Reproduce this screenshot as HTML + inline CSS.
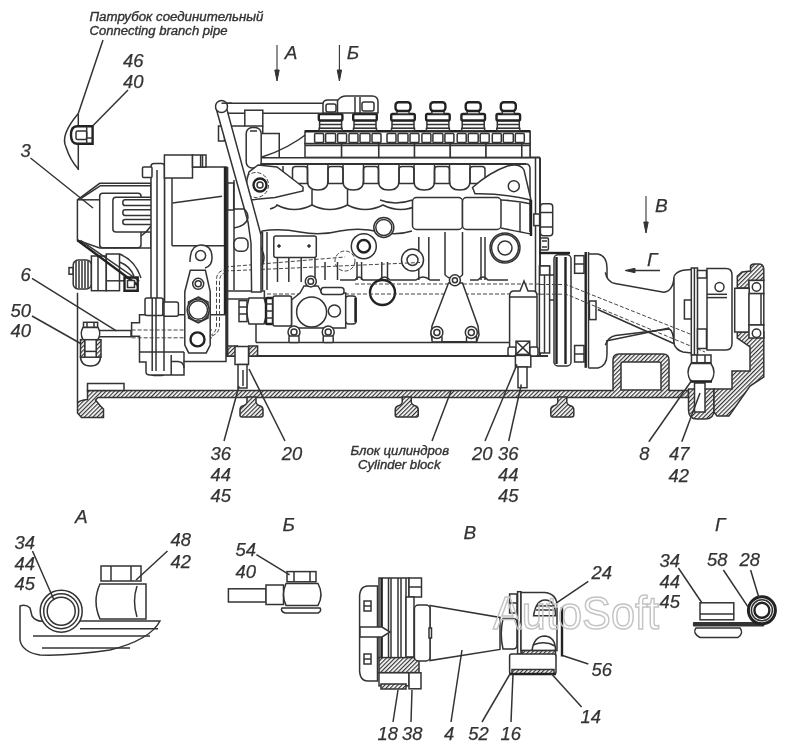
<!DOCTYPE html>
<html><head><meta charset="utf-8"><style>
html,body{margin:0;padding:0;background:#fff;}
svg{display:block;filter:grayscale(1);}
.ln{fill:none;stroke:#333;stroke-width:1.5;}
.ln2{fill:none;stroke:#333;stroke-width:2;}
.f{fill:#fff;stroke:#333;stroke-width:1.5;}
.fn{fill:#fff;stroke:none;}
.thn{fill:none;stroke:#333;stroke-width:1.1;}
.bk{fill:#333;stroke:#333;stroke-width:1;}
.dsh{fill:none;stroke:#444;stroke-width:1;stroke-dasharray:4 2;}
.thk{fill:none;stroke:#222;stroke-width:2.4;}
.fk{fill:#fff;stroke:#222;stroke-width:2.4;}
.thkc{fill:#fff;stroke:#222;stroke-width:3;}
.hat{fill:url(#hp);stroke:#333;stroke-width:1.5;}
.n{font-family:"Liberation Sans",sans-serif;font-style:italic;fill:#333;stroke:#333;stroke-width:0.25;}
.s{font-family:"Liberation Sans",sans-serif;font-style:italic;fill:#333;stroke:#333;stroke-width:0.35;}
.wm{font-family:"Liberation Sans",sans-serif;fill:none;stroke:#c4c4c4;stroke-width:1.5;}
</style></head><body>
<svg width="800" height="756" viewBox="0 0 800 756">
<defs><pattern id="hp" width="3" height="3" patternUnits="userSpaceOnUse" patternTransform="rotate(45)"><rect width="3" height="3" fill="#fff"/><line x1="0.6" y1="0" x2="0.6" y2="3" stroke="#333" stroke-width="1.2"/></pattern></defs>
<path d="M87.5,390.5 L613,390.5 L613,360 Q613,354 619,354 L663,354 Q669,354 669,360 L669,390.5 L688.5,390.5 L688.5,397.5 L98,397.5 L95.5,400 Q100,406 103.5,409 L103.5,417.5 L81.5,417.5 L77.5,413 L77.5,403 Q80,400 87.5,399.5 Z" class="hat"/>
<path d="M621,390 L621,364 Q621,362 623,362 L659,362 Q661,362 661,364 L661,390 Z" class="f"/>
<path d="M247.0,397 L247.0,402 Q246.5,405 242.5,406 Q240.0,407 240.0,410 L240.0,415 Q240.0,417 242.0,417 L261.0,417 Q263.0,417 263.0,415 L263.0,410 Q263.0,407 260.5,406 Q256.5,405 256.0,402 L256.0,397 Z" class="hat"/>
<path d="M402.25,397 L402.25,402 Q401.75,405 397.75,406 Q395.25,407 395.25,410 L395.25,415 Q395.25,417 397.25,417 L416.25,417 Q418.25,417 418.25,415 L418.25,410 Q418.25,407 415.75,406 Q411.75,405 411.25,402 L411.25,397 Z" class="hat"/>
<path d="M557.8,397 L557.8,402 Q557.3,405 553.3,406 Q550.8,407 550.8,410 L550.8,415 Q550.8,417 552.8,417 L571.8,417 Q573.8,417 573.8,415 L573.8,410 Q573.8,407 571.3,406 Q567.3,405 566.8,402 L566.8,397 Z" class="hat"/>
<path d="M688.5,389 L688.5,410 Q688.5,419 697,419 L705,419 Q714,419 714,410 L714,389 Z" class="hat"/>
<rect x="694.5" y="383.0" width="10.5" height="29.0" rx="0" class="f"/>
<path d="M714,389 L732,389 L732,371 L750,371 L750,347 L737.3,338 L737.3,332 L763.8,332 L763.8,377 L750,386 L729,416 L717,416 L714,412 Z" class="hat"/>
<path d="M737.3,288 L737.3,276 L742,272 L750.5,271 L750.5,266 Q751,263.9 754,263.9 L759,263.9 Q763.8,264 763.8,270 L763.8,280.4 L749,280.4 L749,288 Z" class="hat"/>
<rect x="749.0" y="280.4" width="14.8" height="13.2" rx="0" class="f"/>
<circle cx="756.5" cy="287.0" r="4.2" class="f"/>
<rect x="734.7" y="288.3" width="14.5" height="43.7" rx="0" class="f"/>
<rect x="749.0" y="293.6" width="14.8" height="31.4" rx="0" class="f"/>
<path d="M761.0,293.6 L761.0,325.0" class="ln"/>
<rect x="749.0" y="325.0" width="14.8" height="13.0" rx="0" class="f"/>
<circle cx="756.5" cy="333.3" r="4.2" class="f"/>
<rect x="87.5" y="383.5" width="36.5" height="7.0" rx="0" class="f"/>
<path d="M77.5,292.8 L77.5,403.0" class="ln"/>
<path d="M262,157.5 L540,157.5 L540,356 L225,356 L225,167 L247,167 L247,157.5 Z" class="fn"/>
<path d="M247.0,157.5 L540.0,157.5" class="ln2"/>
<path d="M255.0,164.0 L526.0,164.0" class="ln2"/>
<path d="M526,164 Q530,164 530,169 L530,232" class="ln"/>
<path d="M535.5,157.5 L535.5,356.0" class="ln"/>
<path d="M540.0,157.5 L540.0,356.0" class="ln2"/>
<path d="M262,157 Q288,149 310,131.5 L530,131.5 L530,157" class="f"/>
<rect x="305.0" y="143.6" width="36.6" height="13.8" rx="0" class="f"/>
<rect x="341.6" y="143.6" width="37.1" height="13.8" rx="0" class="f"/>
<rect x="378.8" y="143.6" width="35.8" height="13.8" rx="0" class="f"/>
<rect x="414.5" y="143.6" width="35.8" height="13.8" rx="0" class="f"/>
<rect x="450.3" y="143.6" width="35.7" height="13.8" rx="0" class="f"/>
<rect x="486.0" y="143.6" width="35.8" height="13.8" rx="0" class="f"/>
<rect x="521.8" y="143.6" width="8.2" height="13.8" rx="0" class="f"/>
<path d="M305.0,145.5 L530.0,145.5" class="ln"/>
<rect x="305.0" y="131.2" width="225.0" height="12.3" rx="0" class="f"/>
<path d="M305.0,131.2 L530.0,131.2" class="thk"/>
<rect x="314.6" y="133.5" width="9.0" height="9.0" rx="1" class="f"/>
<rect x="325.6" y="133.5" width="10.0" height="9.0" rx="1" class="f"/>
<rect x="337.6" y="133.5" width="9.0" height="9.0" rx="1" class="f"/>
<rect x="319.6" y="120.5" width="22.0" height="8.0" rx="1" class="f"/>
<path d="M319.6,124.5 L341.6,124.5" class="ln"/>
<rect x="319.1" y="128.3" width="23.0" height="2.5" rx="0" class="f"/>
<rect x="318.8" y="114.0" width="23.6" height="6.5" rx="1.5" class="fk"/>
<rect x="349.0" y="133.5" width="9.0" height="9.0" rx="1" class="f"/>
<rect x="360.0" y="133.5" width="10.0" height="9.0" rx="1" class="f"/>
<rect x="372.0" y="133.5" width="9.0" height="9.0" rx="1" class="f"/>
<rect x="354.0" y="120.5" width="22.0" height="8.0" rx="1" class="f"/>
<path d="M354.0,124.5 L376.0,124.5" class="ln"/>
<rect x="353.5" y="128.3" width="23.0" height="2.5" rx="0" class="f"/>
<rect x="353.2" y="114.0" width="23.6" height="6.5" rx="1.5" class="fk"/>
<rect x="387.0" y="133.5" width="9.0" height="9.0" rx="1" class="f"/>
<rect x="398.0" y="133.5" width="10.0" height="9.0" rx="1" class="f"/>
<rect x="410.0" y="133.5" width="9.0" height="9.0" rx="1" class="f"/>
<rect x="392.0" y="120.5" width="22.0" height="8.0" rx="1" class="f"/>
<path d="M392.0,124.5 L414.0,124.5" class="ln"/>
<rect x="391.5" y="128.3" width="23.0" height="2.5" rx="0" class="f"/>
<rect x="391.2" y="114.0" width="23.6" height="6.5" rx="1.5" class="fk"/>
<rect x="397.0" y="110.5" width="12.0" height="3.5" rx="0" class="f"/>
<rect x="395.5" y="102.3" width="15.0" height="8.7" rx="3" class="fk"/>
<rect x="421.9" y="133.5" width="9.0" height="9.0" rx="1" class="f"/>
<rect x="432.9" y="133.5" width="10.0" height="9.0" rx="1" class="f"/>
<rect x="444.9" y="133.5" width="9.0" height="9.0" rx="1" class="f"/>
<rect x="426.9" y="120.5" width="22.0" height="8.0" rx="1" class="f"/>
<path d="M426.9,124.5 L448.9,124.5" class="ln"/>
<rect x="426.4" y="128.3" width="23.0" height="2.5" rx="0" class="f"/>
<rect x="426.1" y="114.0" width="23.6" height="6.5" rx="1.5" class="fk"/>
<rect x="431.9" y="110.5" width="12.0" height="3.5" rx="0" class="f"/>
<rect x="430.4" y="102.3" width="15.0" height="8.7" rx="3" class="fk"/>
<rect x="457.2" y="133.5" width="9.0" height="9.0" rx="1" class="f"/>
<rect x="468.2" y="133.5" width="10.0" height="9.0" rx="1" class="f"/>
<rect x="480.2" y="133.5" width="9.0" height="9.0" rx="1" class="f"/>
<rect x="462.2" y="120.5" width="22.0" height="8.0" rx="1" class="f"/>
<path d="M462.2,124.5 L484.2,124.5" class="ln"/>
<rect x="461.7" y="128.3" width="23.0" height="2.5" rx="0" class="f"/>
<rect x="461.4" y="114.0" width="23.6" height="6.5" rx="1.5" class="fk"/>
<rect x="467.2" y="110.5" width="12.0" height="3.5" rx="0" class="f"/>
<rect x="465.7" y="102.3" width="15.0" height="8.7" rx="3" class="fk"/>
<rect x="492.3" y="133.5" width="9.0" height="9.0" rx="1" class="f"/>
<rect x="503.3" y="133.5" width="10.0" height="9.0" rx="1" class="f"/>
<rect x="515.3" y="133.5" width="9.0" height="9.0" rx="1" class="f"/>
<rect x="497.3" y="120.5" width="22.0" height="8.0" rx="1" class="f"/>
<path d="M497.3,124.5 L519.3,124.5" class="ln"/>
<rect x="496.8" y="128.3" width="23.0" height="2.5" rx="0" class="f"/>
<rect x="496.5" y="114.0" width="23.6" height="6.5" rx="1.5" class="fk"/>
<rect x="502.3" y="110.5" width="12.0" height="3.5" rx="0" class="f"/>
<rect x="500.8" y="102.3" width="15.0" height="8.7" rx="3" class="fk"/>
<path d="M221,103.2 L326,103.2 L326,113.3 L228,113.3 Z" class="f"/>
<rect x="244.8" y="110.2" width="18.0" height="15.8" rx="0" class="f"/>
<path d="M231.0,126.0 L244.8,126.0" class="ln"/>
<path d="M262.75,126 L262.75,133.5 L279.25,133.5 L279.25,157" class="ln"/>
<rect x="246.2" y="127.5" width="15.0" height="40.5" rx="6" class="f"/>
<path d="M250.0,131.0 L257.0,131.0" class="ln"/>
<rect x="218.5" y="126.0" width="6.0" height="15.0" rx="0" class="f"/>
<path d="M323,113 L323,104 Q323,100 328,100 L338,100 Q341,96 346,96 L372,96 Q378,96 378,102 L378,113 Z" class="f"/>
<path d="M337.5,100.0 L337.5,113.0" class="ln"/>
<path d="M355.0,97.0 L355.0,113.0" class="ln"/>
<path d="M360.0,97.0 L360.0,113.0" class="ln"/>
<rect x="326.0" y="104.0" width="10.0" height="8.0" rx="2" class="f"/>
<rect x="362.0" y="102.0" width="12.0" height="9.0" rx="2" class="f"/>
<path d="M292.5,183.4 L292.5,169.5 Q292.5,166.5 295.5,166.5 L304.5,166.5 Q307.5,166.5 307.5,169.5 L307.5,183.4 Z" class="ln"/>
<path d="M307.5,165 L307.5,181 Q307.5,190 317.8,190 Q328.0,190 328.0,181 L328.0,165" class="ln"/>
<path d="M328.0,183.4 L328.0,169.5 Q328.0,166.5 331.0,166.5 L340.0,166.5 Q343.0,166.5 343.0,169.5 L343.0,183.4 Z" class="ln"/>
<path d="M343.0,165 L343.0,181 Q343.0,190 353.2,190 Q363.5,190 363.5,181 L363.5,165" class="ln"/>
<path d="M363.5,183.4 L363.5,169.5 Q363.5,166.5 366.5,166.5 L375.5,166.5 Q378.5,166.5 378.5,169.5 L378.5,183.4 Z" class="ln"/>
<path d="M378.5,165 L378.5,181 Q378.5,190 388.8,190 Q399.0,190 399.0,181 L399.0,165" class="ln"/>
<path d="M399.0,183.4 L399.0,169.5 Q399.0,166.5 402.0,166.5 L411.0,166.5 Q414.0,166.5 414.0,169.5 L414.0,183.4 Z" class="ln"/>
<path d="M414.0,165 L414.0,181 Q414.0,190 424.2,190 Q434.5,190 434.5,181 L434.5,165" class="ln"/>
<path d="M434.5,183.4 L434.5,169.5 Q434.5,166.5 437.5,166.5 L446.5,166.5 Q449.5,166.5 449.5,169.5 L449.5,183.4 Z" class="ln"/>
<path d="M449.5,165 L449.5,181 Q449.5,190 459.8,190 Q470.0,190 470.0,181 L470.0,165" class="ln"/>
<path d="M470.0,183.4 L470.0,169.5 Q470.0,166.5 473.0,166.5 L482.0,166.5 Q485.0,166.5 485.0,169.5 L485.0,183.4 Z" class="ln"/>
<path d="M283,166 L283,181 Q283,190 292.5,183.4" class="ln"/>
<path d="M270,209 Q276.5,207 277.0,205 Q294.2,214 312.0,205 Q329.8,214 347.5,205 Q365.2,214 383.0,205 Q400.8,214 418.5,205" class="ln"/>
<path d="M312.0,190.0 L312.0,205.0" class="ln"/>
<path d="M347.5,190.0 L347.5,205.0" class="ln"/>
<path d="M250,200 Q243,190 249,172 L258,165 L277,167 L303,187 L303,191 L275,197.5 Z" class="f"/>
<circle cx="256.0" cy="185.0" r="12.5" class="dsh"/>
<circle cx="260.0" cy="185.0" r="6.5" class="fk"/>
<circle cx="260.0" cy="185.0" r="3" class="ln"/>
<path d="M472.5,187.5 Q490,172 507.5,166 Q520,163 524,170 L531,200 Q500,193 475,193.75 Z" class="f"/>
<circle cx="513.8" cy="186.2" r="5.5" class="f"/>
<rect x="412.5" y="197.5" width="50.0" height="32.0" rx="4" class="f"/>
<rect x="462.5" y="197.5" width="38.5" height="32.0" rx="4" class="f"/>
<path d="M501,200 Q520,201 531,204 L531,234 Q520,232 501,228" class="ln"/>
<path d="M520.0,203.0 L520.0,232.0" class="ln"/>
<path d="M531.0,200.0 L531.0,236.0" class="thk"/>
<path d="M380,200 Q395,206 412.5,200" class="ln"/>
<rect x="540.4" y="203.8" width="12.3" height="32.0" rx="3" class="f"/>
<path d="M540.4,212.5 L552.7,212.5" class="ln"/>
<path d="M540.4,227.0 L552.7,227.0" class="ln"/>
<rect x="533.8" y="214.0" width="5.8" height="11.6" rx="0" class="f"/>
<rect x="540.4" y="238.0" width="8.0" height="12.0" rx="1" class="f"/>
<path d="M542.0,241.0 L547.0,241.0" class="ln"/>
<path d="M542.0,247.0 L547.0,247.0" class="ln"/>
<path d="M262,231 Q280,228 300,232 Q320,236 340,231 Q360,227 380,232 Q396,236 412,231" class="ln"/>
<path d="M262,231 Q256,240 262,250 Q266,258 262,266" class="ln"/>
<rect x="273.8" y="236.0" width="42.5" height="21.5" rx="2" class="f"/>
<circle cx="279.0" cy="246.0" r="1.3" class="bk"/>
<circle cx="309.0" cy="246.0" r="1.3" class="bk"/>
<path d="M277.5,257.5 L277.5,282.0" class="ln"/>
<path d="M315.0,257.5 L315.0,282.0" class="ln"/>
<path d="M288.8,257.5 L288.8,282.0" class="ln"/>
<path d="M301.2,257.5 L301.2,282.0" class="ln"/>
<path d="M325.0,262.0 L325.0,280.0" class="ln"/>
<path d="M337.5,262.0 L337.5,280.0" class="ln"/>
<path d="M357.0,262.0 L357.0,280.0" class="ln"/>
<path d="M361.6,262.0 L361.6,280.0" class="ln"/>
<path d="M381.8,262.0 L381.8,280.0" class="ln"/>
<path d="M387.5,262.0 L387.5,280.0" class="ln"/>
<path d="M418.8,237.0 L418.8,280.0" class="ln"/>
<path d="M428.8,237.0 L428.8,280.0" class="ln"/>
<path d="M481.0,237.0 L481.0,280.0" class="ln"/>
<path d="M485.0,237.0 L485.0,280.0" class="ln"/>
<path d="M340,280 L355,280 Q359,274 363,280 L379,280 Q384.5,274 390,280 L416,280 Q423,274 430,280 L440,280 M470,280 L478,280 Q483,274 488,280 L508,280" class="ln"/>
<path d="M445.0,232.0 L445.0,275.0" class="ln"/>
<path d="M462.5,232.0 L462.5,275.0" class="ln"/>
<path d="M445,275 Q453.75,283 462.5,275" class="ln"/>
<circle cx="383.8" cy="227.5" r="10" class="f"/>
<circle cx="383.8" cy="227.5" r="8" class="ln"/>
<circle cx="363.8" cy="246.2" r="12.5" class="f"/>
<circle cx="363.8" cy="246.2" r="6.25" class="thk"/>
<circle cx="412.5" cy="260.0" r="11" class="f"/>
<circle cx="412.5" cy="260.0" r="5.5" class="f"/>
<circle cx="505.0" cy="248.0" r="15" class="f"/>
<circle cx="505.0" cy="248.0" r="13.5" class="ln"/>
<circle cx="505.0" cy="248.0" r="7" class="f"/>
<circle cx="382.5" cy="292.5" r="12.5" class="thk"/>
<path d="M225.0,267.0 L345.0,257.0" class="dsh"/>
<path d="M225.0,271.0 L420.0,262.5" class="dsh"/>
<circle cx="345.0" cy="261.0" r="10" class="dsh"/>
<path d="M355.0,284.0 L540.0,284.0" class="dsh"/>
<path d="M225.0,294.0 L540.0,294.0" class="dsh"/>
<path d="M448.5,283 L432,326 L431,335 L433,341.7 L476.6,341.7 L479,335 L478,326 L462.5,283 Z" class="f"/>
<rect x="432.0" y="336.0" width="10.0" height="6.0" rx="1" class="f"/>
<rect x="466.5" y="336.0" width="10.0" height="6.0" rx="1" class="f"/>
<circle cx="454.9" cy="280.3" r="5.5" class="f"/>
<circle cx="454.9" cy="280.3" r="2.5" class="f"/>
<circle cx="436.9" cy="332.4" r="6" class="f"/>
<circle cx="436.9" cy="332.4" r="3" class="f"/>
<circle cx="471.3" cy="332.4" r="6" class="f"/>
<circle cx="471.3" cy="332.4" r="3" class="f"/>
<path d="M256.0,342.5 L509.6,342.5" class="ln"/>
<path d="M256.0,310.0 L256.0,342.5" class="ln"/>
<path d="M225.0,356.0 L548.0,356.0" class="ln2"/>
<path d="M291.5,328 L291.5,300 L300,293 L304,286 L318,286 L322,293 L345.7,293 L345.7,328 Z" class="f"/>
<rect x="321.0" y="287.5" width="23.0" height="7.0" rx="3" class="f"/>
<rect x="345.7" y="296.0" width="10.3" height="28.0" rx="3" class="f"/>
<path d="M355.5,298.0 L355.5,322.0" class="thk"/>
<circle cx="334.4" cy="311.0" r="6.1" class="f"/>
<circle cx="311.6" cy="312.0" r="15" class="f"/>
<circle cx="310.8" cy="281.4" r="5.5" class="f"/>
<circle cx="310.8" cy="281.4" r="2.8" class="f"/>
<circle cx="294.0" cy="332.0" r="6" class="f"/>
<circle cx="294.0" cy="332.0" r="3" class="f"/>
<circle cx="328.2" cy="332.0" r="6" class="f"/>
<circle cx="328.2" cy="332.0" r="3" class="f"/>
<rect x="289.0" y="336.0" width="10.0" height="6.6" rx="1" class="f"/>
<rect x="323.2" y="336.0" width="10.0" height="6.6" rx="1" class="f"/>
<path d="M225,291 L264.4,291 L264.4,299 L225,299" class="f"/>
<rect x="239.0" y="300.6" width="8.0" height="21.0" rx="0" class="f"/>
<path d="M239.0,307.0 L247.0,307.0" class="ln"/>
<path d="M239.0,314.0 L247.0,314.0" class="ln"/>
<path d="M249,298 L264,298 Q269,311 264,324 L249,324 Q245,311 249,298 Z" class="f"/>
<rect x="266.0" y="298.0" width="7.0" height="26.0" rx="1" class="fk"/>
<path d="M266.0,304.0 L273.0,304.0" class="ln"/>
<path d="M266.0,311.0 L273.0,311.0" class="ln"/>
<path d="M266.0,318.0 L273.0,318.0" class="ln"/>
<rect x="273.0" y="296.0" width="18.5" height="30.0" rx="2" class="f"/>
<path d="M509.6,355 L509.6,296 Q509.6,291 514,291 L520,291 L524,281 L528,291 L533,291 Q537,291 537,296 L537,355" class="f"/>
<path d="M509.6,297.0 L537.0,297.0" class="ln"/>
<rect x="508.0" y="347.0" width="8.0" height="9.0" rx="2" class="f"/>
<rect x="529.7" y="347.0" width="8.3" height="9.0" rx="2" class="f"/>
<rect x="516.0" y="341.2" width="13.7" height="13.2" rx="0" class="f"/>
<path d="M516.0,341.2 L529.7,354.4" class="ln"/>
<path d="M529.7,341.2 L516.0,354.4" class="ln"/>
<rect x="515.4" y="355.4" width="15.4" height="11.6" rx="0" class="f"/>
<rect x="518.0" y="367.0" width="9.0" height="20.7" rx="0" class="f"/>
<rect x="227.5" y="346.0" width="10.0" height="10.0" rx="0" class="hat"/>
<rect x="248.8" y="346.0" width="8.8" height="10.0" rx="0" class="hat"/>
<rect x="235.0" y="346.5" width="13.5" height="18.0" rx="0" class="f"/>
<rect x="238.0" y="364.5" width="9.0" height="23.5" rx="0" class="f"/>
<path d="M243.0,370.0 L243.0,386.0" class="ln"/>
<path d="M216,108 L248,222 L251,243 L251.6,292 L261,292 L261,235 L258,224 L226,106 Z" class="f"/>
<circle cx="221.5" cy="106.5" r="6" class="f"/>
<path d="M221.5,103.2 L232.0,103.2" class="ln"/>
<path d="M77.4,199.8 L99.7,183.3 L151,183.3 L151,248 L99.7,248 L77.4,240.3 Z" class="f"/>
<path d="M81.5,198 L100.5,185.7 L151,185.7" class="ln"/>
<path d="M77.4,199.8 L99.7,199.8" class="ln"/>
<rect x="99.7" y="193.2" width="41.3" height="54.5" rx="3" class="f"/>
<path d="M151,197.3 L116,197.3 Q112.9,197.3 112.9,200.5 L112.9,229 Q112.9,232 116,232 L151,232" class="f"/>
<path d="M151,199.8 L125,199.8 Q122.8,199.8 122.8,202.7 Q122.8,205.6 125,205.6 L151,205.6" class="ln"/>
<path d="M151,209.7 L125,209.7 Q122.8,209.7 122.8,212.6 Q122.8,215.5 125,215.5 L151,215.5" class="ln"/>
<path d="M151,219.6 L125,219.6 Q122.8,219.6 122.8,222.1 Q122.8,224.6 125,224.6 L151,224.6" class="ln"/>
<path d="M141,236 Q147,232 151,226" class="ln"/>
<rect x="151.0" y="163.6" width="13.6" height="212.0" rx="3" class="f"/>
<path d="M157.0,170.0 L157.0,370.0" class="ln"/>
<path d="M164.6,167 L226.5,167 L226.5,355.75 L164.6,355.75 Z" class="f"/>
<rect x="164.4" y="155.0" width="28.1" height="23.0" rx="0" class="f"/>
<rect x="192.5" y="155.0" width="13.5" height="12.0" rx="0" class="f"/>
<path d="M200.6,155.0 L200.6,167.0" class="ln"/>
<path d="M202.5,155.0 L202.5,167.0" class="ln"/>
<rect x="142.5" y="167.0" width="9.5" height="10.5" rx="1" class="f"/>
<path d="M172.0,178.0 L172.0,245.8" class="ln"/>
<rect x="227.5" y="183.0" width="6.2" height="27.0" rx="0" class="f"/>
<path d="M172.5,203.0 L222.0,196.2" class="ln"/>
<path d="M172.0,245.8 L226.5,245.8" class="ln"/>
<path d="M225.0,167.0 L225.0,355.8" class="thk"/>
<path d="M227.6,167.0 L227.6,355.8" class="ln"/>
<path d="M234.0,180.0 L234.0,290.0" class="ln"/>
<rect x="234.0" y="238.0" width="14.0" height="13.3" rx="5" class="f"/>
<path d="M234,209 L244,209 Q248,212 248,218 Q246,226 234,228" class="ln"/>
<path d="M262.5,232.0 L262.5,290.0" class="ln"/>
<path d="M267.0,232.0 L267.0,290.0" class="ln"/>
<path d="M190,262 Q190,245 201,245 Q212,245 212,258 Q212,266 205,268" class="f"/>
<circle cx="200.6" cy="255.6" r="5" class="f"/>
<path d="M139.5,314.8 L139.5,322.7 L131.6,322.7 L131.6,336.2 L139.5,336.2 L139.5,352 L139.5,362 L146,362 L146,372 Q146,375 150,375 L184,375 L184,361.5 L226,361.5 L226,314.8 Z" class="f"/>
<path d="M139.5,352.0 L184.0,352.0" class="ln"/>
<path d="M184.0,352.0 L184.0,362.0" class="ln"/>
<rect x="145.0" y="298.0" width="18.0" height="17.5" rx="2" class="f"/>
<rect x="163.0" y="302.0" width="15.4" height="14.3" rx="2" class="f"/>
<path d="M152.2,298.0 L152.2,371.0" class="ln"/>
<path d="M156.0,298.0 L156.0,371.0" class="ln"/>
<path d="M164.0,298.0 L164.0,371.0" class="ln"/>
<path d="M171.2,355.0 L171.2,375.0" class="ln"/>
<path d="M171.25,361.5 L178,361.5 Q184,362 184,368" class="ln"/>
<path d="M131.6,330.0 L212.0,330.0" class="dsh"/>
<path d="M131.6,337.8 L212.0,337.8" class="dsh"/>
<path d="M190.3,270.3 L205.4,270.3 L210.2,291.7 L210.2,345 L206.2,352.9 L188.7,352.9 L184.8,345 L184.8,291.7 Z" class="f"/>
<path d="M198.25,297 L208,302 L208,318 L198.25,323 L188.5,318 L188.5,302 Z" class="ln"/>
<circle cx="198.2" cy="283.8" r="5.5" class="f"/>
<circle cx="198.2" cy="283.8" r="3" class="f"/>
<circle cx="198.2" cy="310.0" r="11" class="f"/>
<circle cx="198.2" cy="310.0" r="9.3" class="ln"/>
<circle cx="197.5" cy="339.4" r="7" class="fk"/>
<path d="M209.4,336 Q216.5,333 216.5,325 L216.5,280 Q216.5,271 225,270" class="dsh"/>
<path d="M212,336 Q219.5,333 219.5,325 L219.5,282 Q219.5,274 225,273" class="dsh"/>
<rect x="69.0" y="267.6" width="4.2" height="6.6" rx="0" class="f"/>
<rect x="73.2" y="260.0" width="18.2" height="29.0" rx="5" class="f"/>
<path d="M76.0,261.0 L76.0,288.0" class="ln"/>
<path d="M79.0,261.0 L79.0,288.0" class="ln"/>
<path d="M82.0,261.0 L82.0,288.0" class="ln"/>
<path d="M85.0,261.0 L85.0,288.0" class="ln"/>
<path d="M88.0,261.0 L88.0,288.0" class="ln"/>
<rect x="91.4" y="256.0" width="14.9" height="34.7" rx="0" class="f"/>
<rect x="106.3" y="254.0" width="13.2" height="36.7" rx="0" class="f"/>
<path d="M106.3,280.8 L124.5,280.8" class="ln"/>
<path d="M98.0,256.0 L98.0,290.7" class="ln"/>
<path d="M77.4,240.3 L137.7,285" class="thk"/>
<path d="M80.5,240.3 L139.3,281" class="ln"/>
<path d="M124.5,277.5 L137.7,277.5 L137.7,290.7 L124.5,290.7 Z" class="thk"/>
<rect x="127.5" y="280.5" width="7.0" height="7.0" rx="0" class="f"/>
<path d="M119.5,254 Q135,260 141,278" class="ln"/>
<path d="M119.5,262 Q130,266 134,276" class="ln"/>
<path d="M99,330.6 L131,330.6 L131,336.8 L99,336.8 Z" class="f"/>
<rect x="83.5" y="322.3" width="14.1" height="5.1" rx="0" class="f"/>
<path d="M87.0,322.3 L87.0,327.4" class="ln"/>
<path d="M94.0,322.3 L94.0,327.4" class="ln"/>
<path d="M83,327.4 L98,327.4 Q101.5,333.5 98,339.7 L83,339.7 Q79.5,333.5 83,327.4 Z" class="f"/>
<rect x="80.5" y="339.7" width="4.4" height="17.5" rx="0" class="hat"/>
<rect x="96.2" y="339.7" width="4.8" height="17.5" rx="0" class="hat"/>
<rect x="84.9" y="339.7" width="11.3" height="17.5" rx="0" class="f"/>
<path d="M84.9,351.4 L96.2,351.4" class="ln"/>
<path d="M80.5,356 Q80.5,366 90.5,366 Q100.5,366 100.5,356" class="ln"/>
<path d="M539.4,253.0 L570.0,253.0" class="thk"/>
<rect x="539.4" y="266.0" width="10.2" height="87.0" rx="0" class="f"/>
<rect x="540.0" y="266.0" width="9.6" height="9.0" rx="0" class="f"/>
<path d="M544.5,275.0 L544.5,353.0" class="ln"/>
<path d="M549.6,275.0 L554.0,275.0" class="ln"/>
<path d="M549.6,300.0 L554.0,300.0" class="ln"/>
<rect x="554.0" y="254.8" width="17.0" height="111.2" rx="4" class="f"/>
<path d="M556.5,257.0 L556.5,364.0" class="thk"/>
<path d="M565.5,257.0 L565.5,364.0" class="thk"/>
<rect x="574.6" y="255.7" width="9.4" height="17.6" rx="0" class="f"/>
<rect x="574.6" y="345.5" width="9.4" height="16.5" rx="0" class="f"/>
<path d="M574.6,264.0 L584.0,264.0" class="ln"/>
<path d="M574.6,354.0 L584.0,354.0" class="ln"/>
<path d="M588.5,254 L598,254 Q607,256 607,268 L607,354 Q607,366 598,368 L588.5,368" class="f"/>
<path d="M585.7,252.0 L585.7,367.8" class="thk"/>
<path d="M588.5,252.0 L588.5,367.8" class="ln"/>
<rect x="589.4" y="301.0" width="6.6" height="18.6" rx="0" class="f"/>
<path d="M605.3,272.4 Q607,282 615,283.5 L663.8,292.3 Q673.4,291 674,276.5 L674,344 Q673.5,331 669.3,329 L615.6,335.6 Q608,337 605.3,345.3" class="f"/>
<path d="M540.0,284.5 L566.0,284.5 L700.0,338.0" class="dsh"/>
<path d="M540.0,294.2 L566.0,294.2 L705.0,352.0" class="dsh"/>
<path d="M597.8,309.5 L674.8,344.0" class="ln"/>
<path d="M606.0,341.0 L669.3,328.0" class="ln"/>
<path d="M674,276.5 Q676,272 683,270.3 L691.3,269.5" class="ln"/>
<path d="M674,344 Q676,350 683,352 L691.3,353" class="ln"/>
<rect x="691.3" y="268.0" width="6.2" height="87.0" rx="0" class="f"/>
<path d="M694.4,268.0 L694.4,355.0" class="ln"/>
<rect x="684.4" y="300.0" width="6.9" height="19.0" rx="0" class="f"/>
<rect x="697.5" y="270.5" width="9.0" height="7.5" rx="0" class="f"/>
<rect x="697.5" y="329.0" width="9.0" height="19.5" rx="0" class="f"/>
<path d="M707,268.5 L726,268.5 Q732,268.5 732,275 L732,343 Q732,350 726,350 L707,350 Z" class="f"/>
<circle cx="719.5" cy="287.0" r="4.5" class="f"/>
<path d="M707.0,294.3 L727.0,294.3" class="ln"/>
<path d="M707.0,297.6 L727.0,297.6" class="ln"/>
<rect x="691.5" y="355.0" width="19.5" height="7.7" rx="0" class="f"/>
<path d="M697.0,355.0 L697.0,362.7" class="ln"/>
<path d="M705.0,355.0 L705.0,362.7" class="ln"/>
<path d="M691,363.5 L711,363.5 Q717,372.5 711,381.5 L691,381.5 Q685,372.5 691,363.5 Z" class="f"/>
<path d="M690.0,381.5 L712.0,381.5" class="thk"/>
<path d="M78.3,113.5 Q60,135 66,147 Q70,160 78.3,169" class="ln"/>
<path d="M78.3,113.5 L78.3,170.0" class="ln"/>
<path d="M77,126.2 L92.6,126.2 L92.6,143.7 L77,143.7 Q71,143.7 71,135 Q71,126.2 77,126.2 Z" class="fk"/>
<rect x="76.0" y="131.0" width="10.7" height="8.4" rx="1.5" class="f"/>
<path d="M86.7,126.2 L86.7,143.7" class="ln"/>
<path d="M86.7,138.0 L92.6,138.0" class="ln"/>
<path d="M103.0,40.0 L78.3,113.5" class="ln"/>
<path d="M128.0,90.0 L92.6,126.0" class="ln"/>
<path d="M30.5,158.0 L93.0,208.0" class="ln"/>
<path d="M32.0,278.4 L116.4,330.8" class="ln"/>
<path d="M32.0,316.0 L81.5,344.0" class="ln"/>
<path d="M224.0,441.0 L239.0,386.0" class="ln"/>
<path d="M285.0,441.0 L249.0,369.0" class="ln"/>
<path d="M485.0,441.0 L517.0,364.4" class="ln"/>
<path d="M508.7,441.0 L521.3,384.5" class="ln"/>
<path d="M648.8,441.8 L692.0,380.0" class="ln"/>
<path d="M681.8,441.8 L700.0,393.0" class="ln"/>
<path d="M432.0,441.0 L451.0,391.0" class="ln"/>
<path d="M277.0,45.0 L277.0,73.0" class="thn"/>
<path d="M274.8,70 L279.2,70 L277,81 Z" class="bk"/>
<path d="M339.4,45.0 L339.4,73.0" class="thn"/>
<path d="M337.2,70 L341.59999999999997,70 L339.4,81 Z" class="bk"/>
<path d="M646.0,196.0 L646.0,225.0" class="thn"/>
<path d="M643.8,222 L648.2,222 L646,233 Z" class="bk"/>
<path d="M660.0,270.5 L630.0,270.5" class="ln"/>
<path d="M635,268.3 L635,272.7 L625,270.5 Z" class="bk"/>
<text x="89.5" y="20.7" class="s" font-size="12" textLength="174" lengthAdjust="spacingAndGlyphs">Патрубок соединительный</text>
<text x="89.5" y="34.5" class="s" font-size="12" textLength="138" lengthAdjust="spacingAndGlyphs">Connecting branch pipe</text>
<text x="123.1" y="67.3" class="n" font-size="19" textLength="20.49" lengthAdjust="spacingAndGlyphs">46</text>
<text x="123.1" y="88.3" class="n" font-size="19" textLength="20.49" lengthAdjust="spacingAndGlyphs">40</text>
<text x="20.5" y="157" class="n" font-size="19" textLength="10.25" lengthAdjust="spacingAndGlyphs">3</text>
<text x="20.5" y="281" class="n" font-size="19" textLength="10.25" lengthAdjust="spacingAndGlyphs">6</text>
<text x="10.5" y="316.5" class="n" font-size="19" textLength="20.49" lengthAdjust="spacingAndGlyphs">50</text>
<text x="10.5" y="337" class="n" font-size="19" textLength="20.49" lengthAdjust="spacingAndGlyphs">40</text>
<text x="284.7" y="59" class="n" font-size="19">A</text>
<text x="346.8" y="59" class="n" font-size="19">Б</text>
<text x="655" y="212" class="n" font-size="19">В</text>
<text x="647" y="266" class="n" font-size="19">Г</text>
<text x="210.5" y="460" class="n" font-size="19" textLength="20.49" lengthAdjust="spacingAndGlyphs">36</text>
<text x="210.5" y="481" class="n" font-size="19" textLength="20.49" lengthAdjust="spacingAndGlyphs">44</text>
<text x="210.5" y="502" class="n" font-size="19" textLength="20.49" lengthAdjust="spacingAndGlyphs">45</text>
<text x="281.7" y="460" class="n" font-size="19" textLength="20.49" lengthAdjust="spacingAndGlyphs">20</text>
<text x="350.5" y="455" class="s" font-size="12" textLength="98.5" lengthAdjust="spacingAndGlyphs">Блок цилиндров</text>
<text x="358" y="469" class="s" font-size="12" textLength="82.5" lengthAdjust="spacingAndGlyphs">Cylinder block</text>
<text x="472.0" y="460" class="n" font-size="19" textLength="20.49" lengthAdjust="spacingAndGlyphs">20</text>
<text x="498.1" y="460" class="n" font-size="19" textLength="20.49" lengthAdjust="spacingAndGlyphs">36</text>
<text x="498.1" y="481" class="n" font-size="19" textLength="20.49" lengthAdjust="spacingAndGlyphs">44</text>
<text x="498.1" y="502" class="n" font-size="19" textLength="20.49" lengthAdjust="spacingAndGlyphs">45</text>
<text x="639.3" y="460" class="n" font-size="19" textLength="10.25" lengthAdjust="spacingAndGlyphs">8</text>
<text x="669.0" y="460" class="n" font-size="19" textLength="20.49" lengthAdjust="spacingAndGlyphs">47</text>
<text x="668.5" y="481.5" class="n" font-size="19" textLength="20.49" lengthAdjust="spacingAndGlyphs">42</text>
<text x="75" y="522.5" class="n" font-size="19">A</text>
<text x="14.5" y="549" class="n" font-size="19" textLength="20.49" lengthAdjust="spacingAndGlyphs">34</text>
<text x="14.5" y="570" class="n" font-size="19" textLength="20.49" lengthAdjust="spacingAndGlyphs">44</text>
<text x="14.5" y="590" class="n" font-size="19" textLength="20.49" lengthAdjust="spacingAndGlyphs">45</text>
<text x="170.5" y="546" class="n" font-size="19" textLength="20.49" lengthAdjust="spacingAndGlyphs">48</text>
<text x="170.5" y="567.5" class="n" font-size="19" textLength="20.49" lengthAdjust="spacingAndGlyphs">42</text>
<path d="M20,606 Q26,604 30,608 L32,616 Q36,622 44,621 L160,621 Q150,640 110,650 Q70,656 40,655 Q22,652 20,640 Z" class="f"/>
<path d="M33.0,636.0 L150.0,636.0" class="ln"/>
<path d="M42.0,648.0 L130.0,648.0" class="ln"/>
<path d="M80.0,628.8 L158.0,628.8" class="ln"/>
<circle cx="61.2" cy="611.2" r="21" class="f"/>
<circle cx="61.2" cy="611.2" r="17.5" class="ln"/>
<circle cx="61.2" cy="611.2" r="14" class="f"/>
<rect x="101.0" y="566.0" width="40.0" height="15.0" rx="0" class="f"/>
<path d="M111.0,566.0 L111.0,581.0" class="ln"/>
<path d="M131.0,566.0 L131.0,581.0" class="ln"/>
<path d="M100,584 L146,584 L146,619 L100,619 Q92,601 100,584 Z" class="f"/>
<path d="M137,586 Q132,601 137,617" class="ln"/>
<path d="M32.5,551.0 L54.0,600.0" class="ln"/>
<path d="M167.5,551.0 L136.0,580.0" class="ln"/>
<text x="282.5" y="531" class="n" font-size="19">Б</text>
<text x="235.5" y="556" class="n" font-size="19" textLength="20.49" lengthAdjust="spacingAndGlyphs">54</text>
<text x="235.5" y="577.5" class="n" font-size="19" textLength="20.49" lengthAdjust="spacingAndGlyphs">40</text>
<rect x="228.4" y="588.8" width="37.6" height="13.2" rx="0" class="f"/>
<rect x="266.0" y="585.0" width="17.5" height="19.5" rx="0" class="f"/>
<path d="M286,583.5 L318,583.5 Q324,594.5 318,605.4 L286,605.4 Q281,594.5 286,583.5 Z" class="f"/>
<rect x="287.0" y="571.6" width="29.0" height="10.2" rx="0" class="f"/>
<path d="M294.0,571.6 L294.0,581.8" class="ln"/>
<path d="M310.0,571.6 L310.0,581.8" class="ln"/>
<path d="M282,608 L320,608 Q322,611 318,613 L285,613 Q280,611 282,608 Z" class="f"/>
<path d="M256.4,554.6 L289.6,574.8" class="ln"/>
<text x="463.6" y="539" class="n" font-size="19">В</text>
<text x="591.5" y="578.5" class="n" font-size="19" textLength="20.49" lengthAdjust="spacingAndGlyphs">24</text>
<text x="591.5" y="675.5" class="n" font-size="19" textLength="20.49" lengthAdjust="spacingAndGlyphs">56</text>
<text x="580.5" y="723" class="n" font-size="19" textLength="20.49" lengthAdjust="spacingAndGlyphs">14</text>
<text x="377.5" y="740" class="n" font-size="19" textLength="20.49" lengthAdjust="spacingAndGlyphs">18</text>
<text x="402.0" y="740" class="n" font-size="19" textLength="20.49" lengthAdjust="spacingAndGlyphs">38</text>
<text x="444.0" y="740" class="n" font-size="19" textLength="10.25" lengthAdjust="spacingAndGlyphs">4</text>
<text x="468.2" y="740" class="n" font-size="19" textLength="20.49" lengthAdjust="spacingAndGlyphs">52</text>
<text x="500.5" y="740" class="n" font-size="19" textLength="20.49" lengthAdjust="spacingAndGlyphs">16</text>
<path d="M368,586 L377.5,586 L377.5,681 L368,681 Q359,681 359.6,668 L359.6,599 Q359,586 368,586 Z" class="f"/>
<rect x="379.0" y="578.0" width="30.0" height="80.0" rx="0" class="f"/>
<path d="M381.6,578.0 L381.6,658.0" class="ln"/>
<path d="M388.5,578.0 L388.5,658.0" class="ln"/>
<path d="M391.0,578.0 L391.0,658.0" class="ln"/>
<path d="M398.0,578.0 L398.0,658.0" class="ln"/>
<path d="M401.0,578.0 L401.0,658.0" class="ln"/>
<path d="M406.0,578.0 L406.0,658.0" class="ln"/>
<path d="M381.6,578.0 L381.6,658.0" class="thk"/>
<rect x="409.0" y="578.0" width="12.5" height="19.0" rx="0" class="f"/>
<path d="M409.0,587.0 L421.5,587.0" class="ln"/>
<rect x="406.0" y="597.0" width="8.0" height="60.0" rx="0" class="f"/>
<rect x="379.0" y="657.6" width="40.0" height="15.0" rx="0" class="hat"/>
<rect x="379.0" y="672.8" width="30.0" height="13.0" rx="0" class="f"/>
<rect x="409.0" y="672.8" width="12.0" height="16.0" rx="0" class="f"/>
<rect x="381.0" y="684.0" width="25.0" height="5.0" rx="0" class="hat"/>
<rect x="364.0" y="601.0" width="7.0" height="10.0" rx="0" class="f"/>
<path d="M364.0,606.0 L371.0,606.0" class="ln"/>
<rect x="364.0" y="654.0" width="7.0" height="10.0" rx="0" class="f"/>
<path d="M364.0,659.0 L371.0,659.0" class="ln"/>
<path d="M360,627 L382,627 L390,632 L382,637 L360,637 Z" class="f"/>
<path d="M430,605.6 L500,617.5 L500,649.4 L430,660.6 Z" class="f"/>
<rect x="414.4" y="605.0" width="15.6" height="56.0" rx="4" class="f"/>
<rect x="429.0" y="628.0" width="2.5" height="10.0" rx="0" class="f"/>
<path d="M503,618.6 L513,618.6 Q517,618.6 517,623 L517,645 Q517,649 513,649 L503,649 Q499.5,634 503,618.6 Z" class="f"/>
<rect x="509.6" y="594.0" width="7.4" height="19.0" rx="0" class="f"/>
<path d="M509.6,603.0 L517.0,603.0" class="ln"/>
<rect x="517.6" y="591.7" width="3.4" height="62.3" rx="0" class="f"/>
<path d="M521,592.5 L545,592.5 Q557,594 557,606 L557,650.6 L521,650.6 Z" class="f"/>
<path d="M533.6,615.7 Q536,600 545,600 Q555.5,600 555.5,615.7 Z" class="f"/>
<path d="M536.0,606.0 L554.0,606.0" class="ln"/>
<path d="M536.0,610.0 L554.0,610.0" class="ln"/>
<path d="M532,650.6 Q534,636 545,636 Q555.5,637 555.5,650.6" class="ln"/>
<path d="M533,645 Q545,640 555,646" class="ln"/>
<path d="M562.0,607.0 L562.0,656.5" class="thk"/>
<rect x="522.0" y="650.6" width="33.5" height="7.4" rx="0" class="hat"/>
<rect x="509.6" y="654.0" width="46.4" height="20.0" rx="2" class="f"/>
<rect x="512.0" y="669.5" width="42.0" height="4.5" rx="0" class="hat"/>
<path d="M509.6,674.0 L556.0,674.0" class="thk"/>
<path d="M393.0,722.0 L398.0,690.0" class="ln"/>
<path d="M411.0,722.0 L412.0,690.0" class="ln"/>
<path d="M451.0,722.0 L462.0,650.0" class="ln"/>
<path d="M482.0,722.0 L510.0,674.0" class="ln"/>
<path d="M511.0,722.0 L513.0,674.0" class="ln"/>
<path d="M581.6,707.0 L551.2,673.5" class="ln"/>
<path d="M588.3,664.0 L562.5,655.5" class="ln"/>
<path d="M588.3,581.3 L556.9,602.7" class="ln"/>
<text x="715" y="531" class="n" font-size="19">Г</text>
<text x="659.5" y="567" class="n" font-size="19" textLength="20.49" lengthAdjust="spacingAndGlyphs">34</text>
<text x="659.5" y="587.5" class="n" font-size="19" textLength="20.49" lengthAdjust="spacingAndGlyphs">44</text>
<text x="659.5" y="608" class="n" font-size="19" textLength="20.49" lengthAdjust="spacingAndGlyphs">45</text>
<text x="707.0" y="565.5" class="n" font-size="19" textLength="20.49" lengthAdjust="spacingAndGlyphs">58</text>
<text x="739.5" y="565.5" class="n" font-size="19" textLength="20.49" lengthAdjust="spacingAndGlyphs">28</text>
<rect x="700.0" y="602.8" width="33.8" height="17.0" rx="0" class="f"/>
<path d="M700.0,614.0 L733.8,614.0" class="ln"/>
<path d="M693.4,622.5 L750,622.5 L763.8,622 L763.8,626 L693.4,626 Z" class="bk"/>
<circle cx="761.9" cy="610.3" r="13.5" class="thkc"/>
<circle cx="761.9" cy="610.3" r="10.5" class="ln"/>
<circle cx="761.9" cy="610.3" r="7.5" class="fk"/>
<path d="M696,628 L740,628 Q744,633 738,637.5 L700,637.5 Q692,633 696,628 Z" class="f"/>
<path d="M678.4,568.0 L702.0,603.0" class="ln"/>
<path d="M723.4,570.0 L747.8,606.6" class="ln"/>
<path d="M750.6,570.0 L759.0,598.0" class="ln"/>
<text x="493" y="628.5" class="wm" font-size="46" textLength="166" lengthAdjust="spacingAndGlyphs">AutoSoft</text>
</svg>
</body></html>
